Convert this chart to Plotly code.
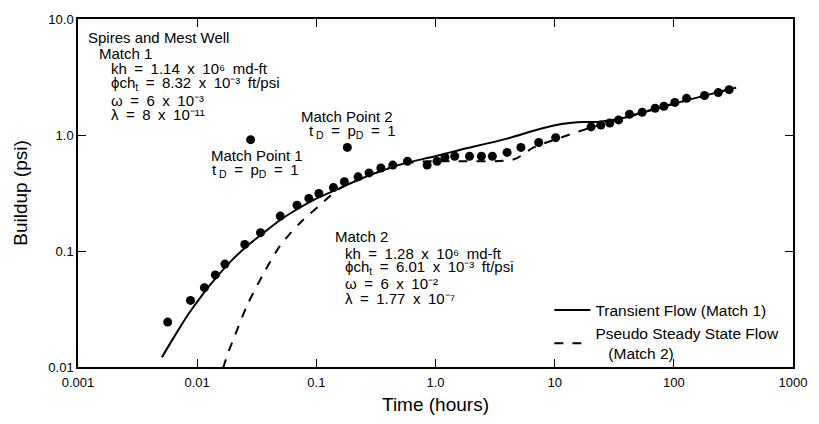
import plotly.graph_objects as go

# Observed buildup data (hours, psi)
time_obs = [0.00566, 0.00879, 0.0115, 0.0142, 0.0171, 0.0251, 0.0340, 0.0498, 0.0689, 0.0865,
            0.105, 0.139, 0.172, 0.224, 0.277, 0.348, 0.438, 0.582, 0.851, 1.03,
            1.20, 1.45, 1.93, 2.43, 3.00, 3.99, 5.21, 7.35, 10.2, 20.2,
            24.4, 29.0, 34.4, 42.4, 54.3, 69.7, 82.6, 102, 128, 181, 236, 291]
buildup_obs = [0.0244, 0.0375, 0.0483, 0.0622, 0.0771, 0.114, 0.144, 0.200, 0.248, 0.284,
               0.313, 0.352, 0.395, 0.436, 0.471, 0.519, 0.550, 0.594, 0.550, 0.594,
               0.643, 0.656, 0.656, 0.656, 0.656, 0.708, 0.782, 0.861, 0.948, 1.175,
               1.22, 1.27, 1.35, 1.51, 1.57, 1.70, 1.77, 1.91, 2.07, 2.19, 2.32, 2.46]

# Match points
match_time = [0.0281, 0.182]
match_buildup = [0.912, 0.782]

# Transient flow (Match 1)
transient_time = [0.00506, 0.00635, 0.00845, 0.01125, 0.01416, 0.01884, 0.0265, 0.0353,
                  0.0498, 0.0689, 0.1007, 0.1475, 0.216, 0.316, 0.560, 0.993, 1.54, 3.99,
                  7.62, 11.8, 17.3, 23.1, 37.1, 96, 333]
transient_buildup = [0.01213, 0.01791, 0.0286, 0.0430, 0.0575, 0.0802, 0.1114, 0.141,
                     0.185, 0.229, 0.284, 0.338, 0.403, 0.471, 0.572, 0.656, 0.736, 0.931,
                     1.13, 1.25, 1.296, 1.296, 1.40, 1.84, 2.56]

# Pseudo steady state flow (Match 2)
pss_time = [0.0165, 0.0185, 0.0207, 0.0265, 0.0367, 0.0498, 0.0729, 0.1067, 0.156, 0.216,
            0.316, 0.560, 0.993, 1.76, 4.56, 6.67, 11.2, 19.8, 27.9, 37.1, 96, 333]
pss_buildup = [0.0098, 0.0139, 0.0186, 0.0347, 0.0659, 0.1114, 0.1745, 0.248, 0.345, 0.403,
               0.471, 0.572, 0.594, 0.594, 0.618, 0.782, 0.948, 1.153, 1.27, 1.40, 1.84, 2.56]

x_tickvals = [0.001, 0.01, 0.1, 1, 10, 100, 1000]
x_ticktext = ["0.001", "0.01", "0.1", "1.0", "10", "100", "1000"]
y_tickvals = [0.01, 0.1, 1, 10]
y_ticktext = ["0.01", "0.1", "1.0", "10.0"]

FONT = "Liberation Sans, Arial, Helvetica, sans-serif"
SP = "\u2002"  # wide spacing like the original typesetting

fig = go.Figure()
fig.add_trace(go.Scatter(x=pss_time, y=pss_buildup, mode="lines",
                         line=dict(color="black", width=2, dash="dash", shape="spline", smoothing=0.8),
                         name="Pseudo Steady State Flow<br>&nbsp;&nbsp;&nbsp;(Match 2)"))
fig.add_trace(go.Scatter(x=transient_time, y=transient_buildup, mode="lines",
                         line=dict(color="black", width=2, shape="spline", smoothing=0.8),
                         name="Transient Flow (Match 1)"))
fig.add_trace(go.Scatter(x=time_obs, y=buildup_obs, mode="markers",
                         marker=dict(color="black", size=9), showlegend=False))
fig.add_trace(go.Scatter(x=match_time, y=match_buildup, mode="markers",
                         marker=dict(color="black", size=9), showlegend=False))

def ann(text, x, y, size=15):
    fig.add_annotation(text=text, x=x, y=y, xref="paper", yref="paper",
                       xanchor="left", yanchor="middle", showarrow=False,
                       font=dict(size=size, color="black", family=FONT))

L, R, T, B = 78, 803, 12, 367
def px(x):
    return (x - L) / (R - L)
def py(y):
    return (B - y) / (B - T)

def eq(a, b):
    return a + SP + "=" + SP + b

def times10(m, e):
    return m + SP + "x" + SP + "10" + e

ann("Spires and Mest Well", px(86), py(31))
ann("Match 1", px(97), py(47))
ann(eq("kh", times10("1.14", "⁶") + SP + "md-ft"), px(109), py(63))
ann(eq("ϕch<sub>t</sub>", times10("8.32", "⁻³") + SP + "ft/psi"), px(109), py(78))
ann(eq("ω", times10("6", "⁻³")), px(109), py(95))
ann(eq("λ", times10("8", "⁻¹¹")), px(109), py(109))

ann("Match Point 2", px(302), py(111))
ann(eq("t<sub> D</sub>", "p<sub>D</sub>" + SP + "=" + SP + "1"), px(310), py(127))
ann("Match Point 1", px(211), py(151))
ann(eq("t<sub> D</sub>", "p<sub>D</sub>" + SP + "=" + SP + "1"), px(212), py(167))

ann("Match 2", px(337), py(234))
ann(eq("kh", times10("1.28", "⁶") + SP + "md-ft"), px(347), py(251))
ann(eq("ϕch<sub>t</sub>", times10("6.01", "⁻³") + SP + "ft/psi"), px(347), py(266))
ann(eq("ω", times10("6", "⁻²")), px(347), py(282))
ann(eq("λ", times10("1.77", "⁻⁷")), px(347), py(297))

axis_common = dict(type="log", showgrid=False, zeroline=False, showline=True,
                   linecolor="black", linewidth=1.5, mirror="ticks", ticks="inside",
                   ticklen=8, tickwidth=1.2, tickcolor="black",
                   tickfont=dict(size=13, color="black", family=FONT))

fig.update_xaxes(range=[-3, 3], tickvals=x_tickvals, ticktext=x_ticktext,
                 ticklabelstandoff=3,
                 title=dict(text="Time (hours)", font=dict(size=19, color="black", family=FONT),
                            standoff=8),
                 **axis_common)
fig.update_yaxes(range=[-2, 1], tickvals=y_tickvals, ticktext=y_ticktext,
                 title=dict(text="Buildup (psi)", font=dict(size=19, color="black", family=FONT),
                            standoff=16),
                 **axis_common)

fig.update_layout(
    width=819, height=424,
    margin=dict(l=L, r=819 - R, t=T, b=424 - B),
    plot_bgcolor="white", paper_bgcolor="white",
    font=dict(family=FONT, color="black"),
    legend=dict(x=px(556), y=py(292), xanchor="left", yanchor="top",
                bgcolor="rgba(0,0,0,0)", font=dict(size=15.5, color="black", family=FONT),
                traceorder="reversed", tracegroupgap=0, itemwidth=36),
)

fig.write_html("out.html")
